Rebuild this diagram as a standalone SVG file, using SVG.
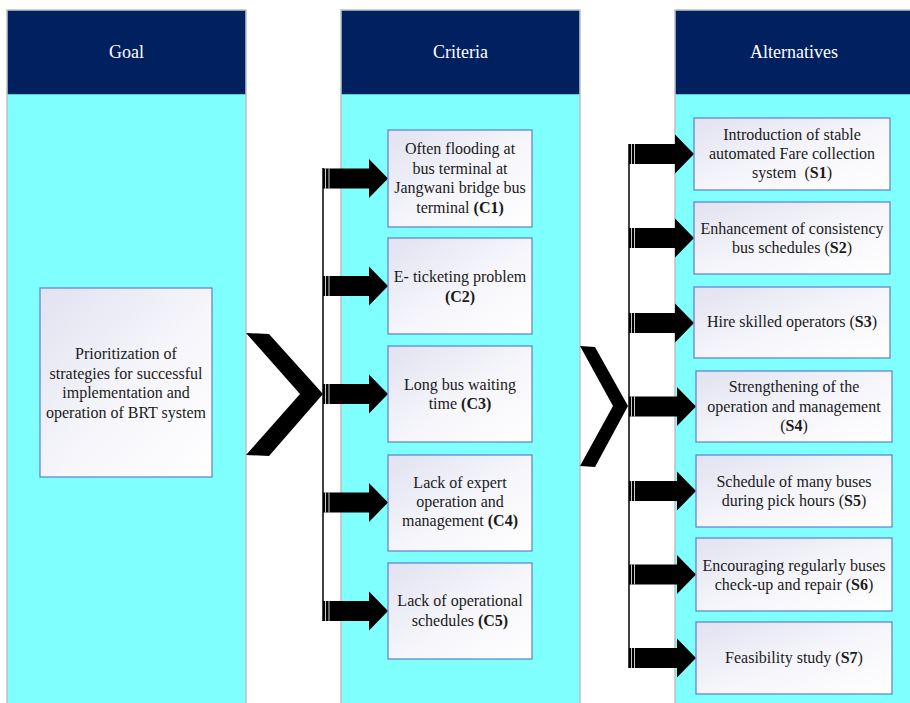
<svg xmlns="http://www.w3.org/2000/svg" width="910" height="703" viewBox="0 0 910 703">
<defs>
<linearGradient id="boxGrad" x1="0" y1="0" x2="1" y2="1">
<stop offset="0" stop-color="#e2e2f1"/>
<stop offset="0.55" stop-color="#f6f6fb"/>
<stop offset="1" stop-color="#ffffff"/>
</linearGradient>
</defs>
<style>
text{font-family:'Liberation Serif','DejaVu Serif','Times New Roman',Times,serif}
.col{fill:#80ffff;stroke:#c0c0c0;stroke-width:1.5}
.hdr{fill:#002060}
.htxt{font-size:18px;fill:#ffffff;text-anchor:middle}
.box{fill:url(#boxGrad);stroke:#5b7fd0;stroke-width:1.2}
.txt{font-size:16px;fill:#1a1a1a;text-anchor:middle}
.b{font-weight:bold}
.arr{fill:#000000}
.stripe{stroke:#ffffff;stroke-width:0.8}
.vline{stroke:#000000;stroke-width:1.5;fill:none}
</style>
<rect width="910" height="703" fill="#ffffff"/>
<g id="col-goal">
<rect class="col" x="7" y="10" width="239" height="700"/>
<rect class="hdr" x="7.75" y="10.75" width="237.5" height="83.5"/>
<text class="htxt" x="126.5" y="58" font-family="Liberation Serif, serif">Goal</text>
</g>
<g id="col-criteria">
<rect class="col" x="341" y="10" width="239" height="700"/>
<rect class="hdr" x="341.75" y="10.75" width="237.5" height="83.5"/>
<text class="htxt" x="460.5" y="58">Criteria</text>
</g>
<g id="col-alternatives">
<rect class="col" x="675" y="10" width="239" height="700"/>
<rect class="hdr" x="675.75" y="10.75" width="237.5" height="83.5"/>
<text class="htxt" x="794" y="58">Alternatives</text>
</g>
<g id="connectors">
<rect x="247" y="95" width="93" height="610" fill="#ffffff"/>
<rect x="581" y="95" width="93" height="610" fill="#ffffff"/>
<polygon class="arr" points="246,333 269,334 323,394 269,456 246,455 300,394"/>
<polygon class="arr" points="580,346 595,347 628,406 595,467 580,466 613,406"/>
<line class="vline" x1="323" y1="168" x2="323" y2="621"/>
<line class="vline" x1="629" y1="144" x2="629" y2="668"/>
<g id="crit-arrows">
<polygon class="arr" points="323,168.5 369,168.5 369,159 388,178.5 369,198 369,188.5 323,188.5"/>
<polygon class="arr" points="323,276 369,276 369,266.5 388,286 369,305.5 369,296 323,296"/>
<polygon class="arr" points="323,384 369,384 369,374.5 388,394 369,413.5 369,404 323,404"/>
<polygon class="arr" points="323,492.5 369,492.5 369,483 388,502.5 369,522 369,512.5 323,512.5"/>
<polygon class="arr" points="323,601 369,601 369,591.5 388,611 369,630.5 369,621 323,621"/>
</g>
<g id="alt-arrows">
<polygon class="arr" points="629,144 675,144 675,134.5 694,154 675,173.5 675,164 629,164"/>
<polygon class="arr" points="629,228 675,228 675,218.5 694,238 675,257.5 675,248 629,248"/>
<polygon class="arr" points="629,313 675,313 675,303.5 694,323 675,342.5 675,333 629,333"/>
<polygon class="arr" points="629,396.5 677,396.5 677,387 696,406.5 677,426 677,416.5 629,416.5"/>
<polygon class="arr" points="629,481 677,481 677,471.5 696,491 677,510.5 677,501 629,501"/>
<polygon class="arr" points="629,564.5 677,564.5 677,555 696,574.5 677,594 677,584.5 629,584.5"/>
<polygon class="arr" points="629,648 677,648 677,638.5 696,658 677,677.5 677,668 629,668"/>
</g>
<g id="stripes">
<path class="stripe" d="M325.5,168.5V188.5M329,168.5V188.5M325.5,276V296M329,276V296M325.5,384V404M329,384V404M325.5,492.5V512.5M329,492.5V512.5M325.5,601V621M329,601V621"/>
<path class="stripe" d="M631.5,144V164M634.5,144V164M631.5,228V248M634.5,228V248M631.5,313V333M634.5,313V333M631.5,396.5V416.5M634.5,396.5V416.5M631.5,481V501M634.5,481V501M631.5,564.5V584.5M634.5,564.5V584.5M631.5,648V668M634.5,648V668"/>
</g>
</g>
<g id="goal">
<rect class="box" x="40" y="288" width="172" height="189"/>
<text class="txt" x="126" y="359">Prioritization of</text>
<text class="txt" x="126" y="378.5">strategies for successful</text>
<text class="txt" x="126" y="398">implementation and</text>
<text class="txt" x="126" y="417.5">operation of BRT system</text>
</g>
<g id="c1">
<rect class="box" x="388" y="130" width="144" height="97"/>
<text class="txt" x="460" y="154">Often flooding at</text>
<text class="txt" x="460" y="173.5">bus terminal at</text>
<text class="txt" x="460" y="193">Jangwani bridge bus</text>
<text class="txt" x="460" y="212.5">terminal <tspan class="b">(C1)</tspan></text>
</g>
<g id="c2">
<rect class="box" x="388" y="238" width="144" height="96"/>
<text class="txt" x="460" y="282">E- ticketing problem</text>
<text class="txt b" x="460" y="302">(C2)</text>
</g>
<g id="c3">
<rect class="box" x="388" y="346" width="144" height="96"/>
<text class="txt" x="460" y="390">Long bus waiting</text>
<text class="txt" x="460" y="409">time <tspan class="b">(C3)</tspan></text>
</g>
<g id="c4">
<rect class="box" x="388" y="455" width="144" height="96"/>
<text class="txt" x="460" y="488">Lack of expert</text>
<text class="txt" x="460" y="507">operation and</text>
<text class="txt" x="460" y="526">management <tspan class="b">(C4)</tspan></text>
</g>
<g id="c5">
<rect class="box" x="388" y="563" width="144" height="96"/>
<text class="txt" x="460" y="606">Lack of operational</text>
<text class="txt" x="460" y="626">schedules <tspan class="b">(C5)</tspan></text>
</g>
<g id="s1">
<rect class="box" x="694" y="118" width="196" height="72"/>
<text class="txt" x="792" y="140">Introduction of stable</text>
<text class="txt" x="792" y="159">automated Fare collection</text>
<text class="txt" x="792" y="178" xml:space="preserve">system  (<tspan class="b">S1</tspan>)</text>
</g>
<g id="s2">
<rect class="box" x="694" y="202" width="196" height="72"/>
<text class="txt" x="792" y="234">Enhancement of consistency</text>
<text class="txt" x="792" y="253">bus schedules (<tspan class="b">S2</tspan>)</text>
</g>
<g id="s3">
<rect class="box" x="694" y="287" width="196" height="71"/>
<text class="txt" x="792" y="327">Hire skilled operators (<tspan class="b">S3</tspan>)</text>
</g>
<g id="s4">
<rect class="box" x="696" y="371" width="196" height="71"/>
<text class="txt" x="794" y="392">Strengthening of the</text>
<text class="txt" x="794" y="411.5">operation and management</text>
<text class="txt" x="794" y="431">(<tspan class="b">S4</tspan>)</text>
</g>
<g id="s5">
<rect class="box" x="696" y="455" width="196" height="72"/>
<text class="txt" x="794" y="487">Schedule of many buses</text>
<text class="txt" x="794" y="506">during pick hours (<tspan class="b">S5</tspan>)</text>
</g>
<g id="s6">
<rect class="box" x="696" y="538" width="196" height="73"/>
<text class="txt" x="794" y="571">Encouraging regularly buses</text>
<text class="txt" x="794" y="590">check-up and repair (<tspan class="b">S6</tspan>)</text>
</g>
<g id="s7">
<rect class="box" x="696" y="622" width="196" height="72"/>
<text class="txt" x="794" y="663">Feasibility study (<tspan class="b">S7</tspan>)</text>
</g>
</svg>
